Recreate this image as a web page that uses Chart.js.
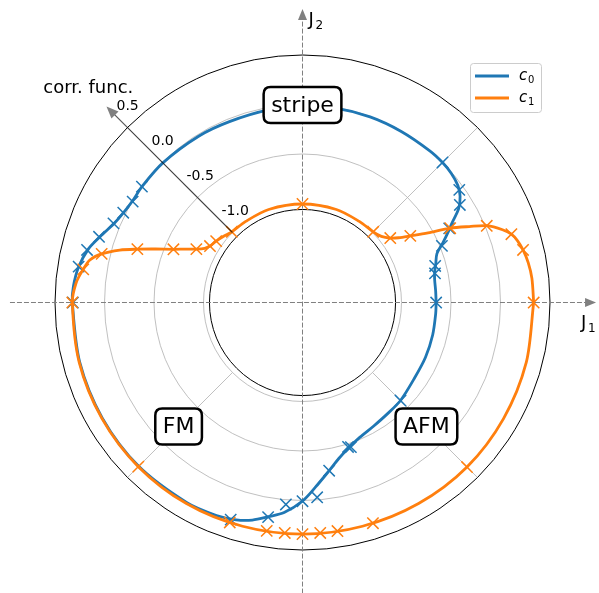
<!DOCTYPE html>
<html>
<head>
<meta charset="utf-8">
<script src="https://cdn.jsdelivr.net/npm/chart.js@4.4.1/dist/chart.umd.min.js"></script>
<style>
  html, body { margin: 0; padding: 0; background: #fff; }
  #chart { display: block; }
</style>
</head>
<body>
<canvas id="chart" width="599" height="593"></canvas>
<script>
// ----------------------------
// Data: angle in degrees (J1 = cos, J2 = sin), value = corr. func.
// ----------------------------
const c0LineAngles = [0, 5, 10, 13, 16, 20, 23, 26, 28, 31, 34, 37, 41, 45, 50, 60, 70, 80, 90, 100, 112, 122, 135,
  144, 149, 153, 157, 162, 166, 171, 176, 180, 195, 210, 225, 240, 248, 253, 257, 261, 265, 270, 274, 279, 283, 287,
  293, 300, 307, 315, 326, 336, 346, 355, 360];
const c0LineValues = [-0.65, -0.65, -0.645, -0.63, -0.60, -0.555, -0.46, -0.36, -0.29, -0.16, -0.08, -0.035, -0.01, 0.0,
  0.0, -0.005, -0.005, -0.01, -0.02, -0.025, -0.03, -0.02, -0.005, 0.0, 0.0, 0.02, 0.06, 0.15, 0.23, 0.29, 0.32, 0.325,
  0.33, 0.335, 0.34, 0.335, 0.32, 0.295, 0.255, 0.19, 0.13, 0.005, -0.13, -0.28, -0.38, -0.45, -0.52, -0.56, -0.585,
  -0.60, -0.635, -0.64, -0.645, -0.65, -0.65];

const c0MarkAngles = [0, 12.4, 15.4, 22.1, 26.8, 31.8, 35.7, 45, 144.2, 149.3, 153.4, 157.3, 162.1, 166.3, 170.9, 180,
  251.7, 260.9, 265.3, 270, 274.3, 279, 287.5, 288.5, 315];
const c0MarkValues = [-0.65, -0.63, -0.61, -0.48, -0.34, -0.13, -0.05, 0.0, 0.0, -0.005, 0.025, 0.07, 0.16, 0.24, 0.29,
  0.32, 0.31, 0.196, 0.047, 0.007, -0.027, -0.28, -0.47, -0.46, -0.60];

const c1LineAngles = [0, 6, 10, 13.4, 16, 18.1, 20, 22.6, 24.5, 26.7, 29, 31.7, 34, 36.3, 40, 45, 55, 70, 90, 110, 125,
  135, 140, 144.6, 148.6, 151, 153.3, 155.5, 157.6, 160, 162.1, 164, 166.4, 168.7, 171.4, 175, 180, 195, 210, 225, 240,
  255, 270, 285, 300, 315, 330, 345, 360];
const c1LineValues = [0.335, 0.33, 0.315, 0.29, 0.26, 0.22, 0.15, 0.02, -0.15, -0.33, -0.55, -0.72, -0.83, -0.90, -0.96,
  -0.99, -1.0, -1.0, -1.005, -1.0, -1.0, -0.99, -0.96, -0.93, -0.905, -0.87, -0.80, -0.70, -0.59, -0.42, -0.247, -0.08,
  0.087, 0.19, 0.24, 0.295, 0.325, 0.335, 0.34, 0.345, 0.345, 0.34, 0.34, 0.34, 0.345, 0.35, 0.345, 0.34, 0.335];

const c1MarkAngles = [0, 13.4, 18.1, 22.6, 26.7, 31.7, 36.3, 45, 90, 135, 144.6, 148.6, 153.3, 157.6, 162.1, 166.4,
  171.4, 180, 225, 251.7, 261.1, 265.6, 270, 274.4, 278.7, 287.7, 315];
const c1MarkValues = [0.335, 0.29, 0.22, 0.016, -0.33, -0.72, -0.90, -0.99, -1.005, -0.99, -0.93, -0.905, -0.80, -0.59,
  -0.247, 0.087, 0.24, 0.325, 0.345, 0.34, 0.335, 0.335, 0.34, 0.335, 0.335, 0.34, 0.35];

// radial axis
const radialTicks = [-1.0, -0.5, 0.0, 0.5];
const radialTickLabels = ['-1.0', '-0.5', '0.0', '0.5'];
const radialMin = -1.06;
const radialMax = 0.5;
const radialAxisAngle = 135;
const gridAngles = [45, 135, 225, 315];

// phase labels
const phaseLabels = ['stripe', 'FM', 'AFM'];
const phaseAngles = [90, 225, 315];
const phaseValues = [-0.005, -0.23, -0.23];

const seriesNames = ['c', 'c'];
const seriesSubs = ['0', '1'];
const seriesColors = ['#1f77b4', '#ff7f0e'];

const RORIGIN = -2.0;   // corr. func. value at the pole
const FONT = '"DejaVu Sans", Verdana, sans-serif';

// ----------------------------
// Helpers
// ----------------------------
function polar(angleDeg, value) {
    const r = value - RORIGIN;
    const a = angleDeg * Math.PI / 180;
    return { x: r * Math.cos(a), y: r * Math.sin(a) };
}

function toPoints(angles, values) {
    return angles.map((a, i) => polar(a, values[i]));
}

function px(chart, p) {
    return { x: chart.scales.x.getPixelForValue(p.x), y: chart.scales.y.getPixelForValue(p.y) };
}

function radiusPx(chart, value) {
    const xs = chart.scales.x;
    return xs.getPixelForValue(value - RORIGIN) - xs.getPixelForValue(0);
}

function arrowHead(ctx, tip, dirX, dirY, len, half, color) {
    ctx.save();
    ctx.fillStyle = color;
    ctx.beginPath();
    ctx.moveTo(tip.x, tip.y);
    ctx.lineTo(tip.x - dirX * len - dirY * half, tip.y - dirY * len + dirX * half);
    ctx.lineTo(tip.x - dirX * len + dirY * half, tip.y - dirY * len - dirX * half);
    ctx.closePath();
    ctx.fill();
    ctx.restore();
}

function roundBox(ctx, x, y, w, h, r) {
    ctx.beginPath();
    ctx.moveTo(x + r, y);
    ctx.lineTo(x + w - r, y);
    ctx.quadraticCurveTo(x + w, y, x + w, y + r);
    ctx.lineTo(x + w, y + h - r);
    ctx.quadraticCurveTo(x + w, y + h, x + w - r, y + h);
    ctx.lineTo(x + r, y + h);
    ctx.quadraticCurveTo(x, y + h, x, y + h - r);
    ctx.lineTo(x, y + r);
    ctx.quadraticCurveTo(x, y, x + r, y);
    ctx.closePath();
}

// ----------------------------
// Polar frame plugin
// ----------------------------
const polarFrame = {
    id: 'polarFrame',
    beforeDatasetsDraw(chart) {
        const ctx = chart.ctx;
        const c = px(chart, { x: 0, y: 0 });
        ctx.save();

        // gray circles
        ctx.strokeStyle = '#b0b0b0';
        ctx.lineWidth = 0.8;
        radialTicks.slice(0, -1).forEach(v => {
            ctx.beginPath();
            ctx.arc(c.x, c.y, radiusPx(chart, v), 0, Math.PI * 2);
            ctx.stroke();
        });
        // diagonal grid lines
        gridAngles.forEach(a => {
            const p0 = px(chart, polar(a, radialTicks[0]));
            const p1 = px(chart, polar(a, radialMax));
            ctx.beginPath();
            ctx.moveTo(p0.x, p0.y);
            ctx.lineTo(p1.x, p1.y);
            ctx.stroke();
        });

        // inner and outer black circles
        ctx.strokeStyle = '#000';
        ctx.lineWidth = 1;
        [radialMin, radialMax].forEach(v => {
            ctx.beginPath();
            ctx.arc(c.x, c.y, radiusPx(chart, v), 0, Math.PI * 2);
            ctx.stroke();
        });

        // dashed J1 / J2 axes
        const left = px(chart, { x: -2.955, y: 0 });
        const right = px(chart, { x: 2.965, y: 0 });
        const bottom = px(chart, { x: 0, y: -2.94 });
        const top = px(chart, { x: 0, y: 2.965 });
        ctx.strokeStyle = '#808080';
        ctx.lineWidth = 1;
        ctx.setLineDash([5, 2]);
        ctx.beginPath();
        ctx.moveTo(left.x, left.y);
        ctx.lineTo(right.x - 8, right.y);
        ctx.moveTo(bottom.x, bottom.y);
        ctx.lineTo(top.x, top.y + 8);
        ctx.stroke();
        ctx.setLineDash([]);
        arrowHead(ctx, right, 1, 0, 11, 4.5, '#808080');
        arrowHead(ctx, top, 0, -1, 11, 4.5, '#808080');

        ctx.fillStyle = '#000';
        ctx.textBaseline = 'alphabetic';
        ctx.textAlign = 'left';
        ctx.font = '18px ' + FONT;
        ctx.fillText('J', top.x + 6, top.y + 16);
        ctx.fillText('J', right.x - 15, right.y + 25);
        ctx.font = '12px ' + FONT;
        ctx.fillText('2', top.x + 13, top.y + 20);
        ctx.fillText('1', right.x - 8, right.y + 29);
        ctx.restore();
    },
    afterDatasetsDraw(chart) {
        const ctx = chart.ctx;
        ctx.save();

        // radial axis with arrow
        const a0 = px(chart, polar(radialAxisAngle, radialTicks[0]));
        const a1 = px(chart, polar(radialAxisAngle, 0.8));
        const d = Math.SQRT1_2;
        ctx.strokeStyle = 'rgba(0,0,0,0.65)';
        ctx.lineWidth = 1.2;
        ctx.beginPath();
        ctx.moveTo(a0.x, a0.y);
        ctx.lineTo(a1.x + d * 10, a1.y + d * 10);
        ctx.stroke();
        arrowHead(ctx, a1, -d, -d, 12, 5, '#808080');

        // radial tick labels
        ctx.fillStyle = '#000';
        ctx.font = '14px ' + FONT;
        ctx.textAlign = 'left';
        ctx.textBaseline = 'middle';
        radialTicks.forEach((v, i) => {
            const p = px(chart, polar(radialAxisAngle, v));
            ctx.fillText(radialTickLabels[i], p.x - 11, p.y - 21);
        });
        const t = px(chart, polar(radialAxisAngle, 1.06));
        ctx.font = '18px ' + FONT;
        ctx.textAlign = 'center';
        ctx.fillText('corr. func.', t.x, t.y);

        // phase label boxes
        ctx.font = '22px ' + FONT;
        phaseLabels.forEach((label, i) => {
            const p = px(chart, polar(phaseAngles[i], phaseValues[i]));
            const w = ctx.measureText(label).width + 15;
            const h = 36;
            roundBox(ctx, p.x - w / 2, p.y - h / 2, w, h, 7);
            ctx.fillStyle = '#fff';
            ctx.fill();
            ctx.strokeStyle = '#000';
            ctx.lineWidth = 2.5;
            ctx.stroke();
            ctx.fillStyle = '#000';
            ctx.fillText(label, p.x, p.y + 1);
        });

        // legend
        const area = chart.chartArea;
        const lx = area.right - 129, ly = area.top + 63;
        roundBox(ctx, lx + 0.5, ly + 0.5, 71, 49, 3);
        ctx.fillStyle = 'rgba(255,255,255,0.8)';
        ctx.fill();
        ctx.strokeStyle = '#cccccc';
        ctx.lineWidth = 1;
        ctx.stroke();
        seriesNames.forEach((name, i) => {
            const y = ly + 13 + i * 22;
            ctx.strokeStyle = seriesColors[i];
            ctx.lineWidth = 2.8;
            ctx.beginPath();
            ctx.moveTo(lx + 5, y);
            ctx.lineTo(lx + 39, y);
            ctx.stroke();
            ctx.fillStyle = '#000';
            ctx.textAlign = 'left';
            ctx.textBaseline = 'alphabetic';
            ctx.font = 'italic 15px ' + FONT;
            ctx.fillText(name, lx + 49, y + 4);
            ctx.font = '10px ' + FONT;
            ctx.fillText(seriesSubs[i], lx + 58, y + 7);
        });
        ctx.restore();
    }
};

// ----------------------------
// Chart
// ----------------------------
const lineStyle = { showLine: true, fill: false, pointRadius: 0, borderWidth: 2.8, tension: 0.3 };
const markStyle = { showLine: false, pointStyle: 'crossRot', pointRadius: 8, borderWidth: 1.5 };

new Chart(document.getElementById('chart'), {
    type: 'scatter',
    data: {
        datasets: [
            Object.assign({ label: 'c1 marks', data: toPoints(c1MarkAngles, c1MarkValues),
                borderColor: seriesColors[1], order: 0 }, markStyle),
            Object.assign({ label: 'c1', data: toPoints(c1LineAngles, c1LineValues),
                borderColor: seriesColors[1], order: 1 }, lineStyle),
            Object.assign({ label: 'c0 marks', data: toPoints(c0MarkAngles, c0MarkValues),
                borderColor: seriesColors[0], order: 2 }, markStyle),
            Object.assign({ label: 'c0', data: toPoints(c0LineAngles, c0LineValues),
                borderColor: seriesColors[0], order: 3 }, lineStyle)
        ]
    },
    options: {
        responsive: false,
        devicePixelRatio: 1,
        animation: false,
        layout: { padding: 0, autoPadding: false },
        plugins: { legend: { display: false }, tooltip: { enabled: false } },
        scales: {
            x: { type: 'linear', display: false, min: -3.0556, max: 2.9949 },
            y: { type: 'linear', display: false, min: -2.9343, max: 3.0556 }
        }
    },
    plugins: [polarFrame]
});
</script>
</body>
</html>
